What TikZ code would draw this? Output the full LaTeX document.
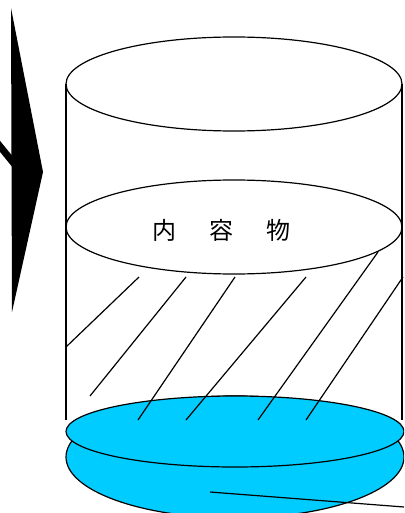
\documentclass[tikz,border=0pt]{standalone}
\usepackage{fontspec}
\newfontfamily\cjk{Noto Sans CJK JP}
\definecolor{disccyan}{RGB}{0,204,255}
\tikzset{%
  rim/.style={draw=black,line width=1.2pt},
  hatch/.style={draw=black,line width=1.2pt},
  disc/.style={rim,fill=disccyan},
  tag/.style={font=\cjk\fontsize{24}{24}\selectfont,inner sep=0pt}
}
\begin{document}
\begin{tikzpicture}[x=1pt,y=-1pt]
	\useasboundingbox (0,0) rectangle (404,513);
	\clip (0,0) rectangle (404,513);
	% arrow coming in from the left
	\draw[line width=7pt] (-6,139) -- (16,166);
	\fill (11,8) -- (43,172) -- (12,312) -- cycle;
	% container walls and rims
	\draw[rim] (66,84) -- (66,420);
	\draw[rim] (402,84) -- (402,420);
	\draw[rim] (234,84) ellipse [x radius=168,y radius=47];
	\draw[rim] (234,227) ellipse [x radius=168,y radius=47];
	\node[tag] (contents) at (221,230) {内\hspace{33pt}容\hspace{33pt}物};
	% bottom disc
	\draw[disc] (235,457) ellipse [x radius=169,y radius=61];
	\draw[disc] (235,431.5) ellipse [x radius=169,y radius=35.5];
	% hatching of the contents
	\draw[hatch] (66,347) -- (139,277);
	\draw[hatch] (90,396) -- (186,277);
	\draw[hatch] (138,420) -- (235,277);
	\draw[hatch] (186,420) -- (306,277);
	\draw[hatch] (258,420) -- (378,252);
	\draw[hatch] (306,420) -- (403,277);
	% leader line
	\coordinate (lead-a) at (210,492);
	\coordinate (lead-b) at (404,507);
	\draw[rim] (lead-a) -- (lead-b);
\end{tikzpicture}
\end{document}
